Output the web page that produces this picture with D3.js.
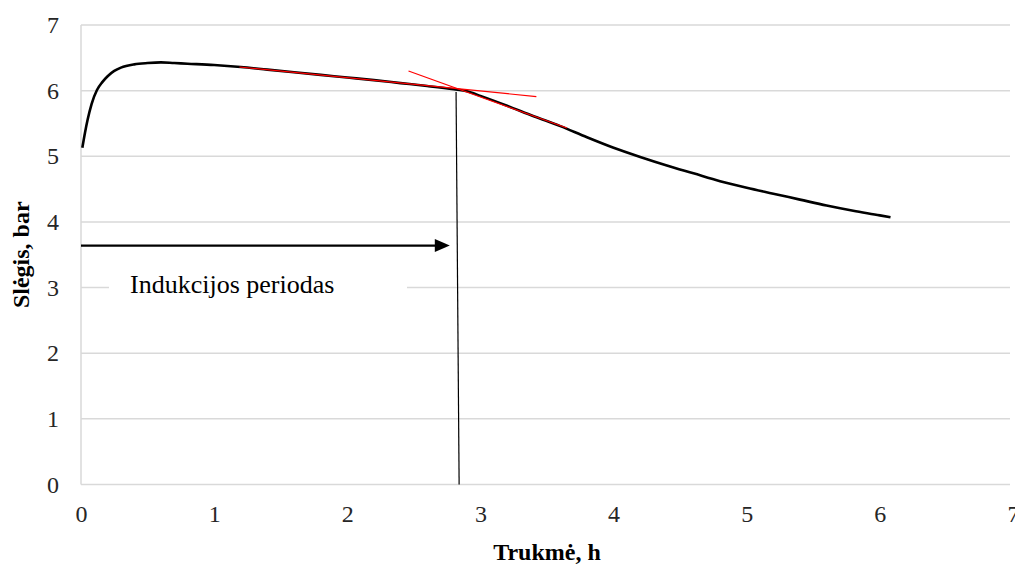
<!DOCTYPE html>
<html>
<head>
<meta charset="utf-8">
<script src="https://cdn.jsdelivr.net/npm/d3@7"></script>
<style>
  body { margin: 0; background: #fff; }
  svg { display: block; font-family: "Liberation Serif", "Times New Roman", serif; }
</style>
</head>
<body>
<div id="chart"></div>
<script>
"use strict";

// pressure curve (time in h, pressure in bar)
const timeH = [0.01, 0.03, 0.05, 0.08, 0.12, 0.16, 0.2, 0.25, 0.3, 0.4, 0.5, 0.6, 0.7, 0.8, 1.0, 1.2, 1.4, 1.6, 1.8, 2.0, 2.2, 2.4, 2.6, 2.8, 2.9, 3.0, 3.2, 3.4, 3.6, 3.8, 4.0, 4.2, 4.4, 4.6, 4.8, 5.0, 5.2, 5.4, 5.6, 5.8, 6.0, 6.08];
const pressure = [5.13, 5.36, 5.56, 5.8, 6.01, 6.13, 6.22, 6.3, 6.35, 6.4, 6.42, 6.43, 6.42, 6.41, 6.39, 6.36, 6.32, 6.28, 6.24, 6.2, 6.16, 6.115, 6.07, 6.02, 5.99, 5.92, 5.77, 5.61, 5.46, 5.29, 5.13, 4.99, 4.86, 4.74, 4.62, 4.52, 4.43, 4.34, 4.25, 4.17, 4.1, 4.07];

// tangent lines (red) and induction period markers
const tangentA = [[1.19, 6.36], [3.42, 5.91]];
const tangentB = [[2.46, 6.3], [3.65, 5.43]];
const inductionLine = [[2.817, 5.98], [2.84, 0]];
const arrowLine = [[0, 3.64], [2.77, 3.64]];

const xTicks = [0, 1, 2, 3, 4, 5, 6, 7];
const yTicks = [0, 1, 2, 3, 4, 5, 6, 7];

const width = 1015;
const height = 564;
const margin = { top: 25, right: 2, bottom: 79.5, left: 81 };
const innerWidth = width - margin.left - margin.right;
const innerHeight = height - margin.top - margin.bottom;
const gridColor = "#d9d9d9";

const svg = d3.select("#chart").append("svg")
  .attr("width", width)
  .attr("height", height);

const g = svg.append("g").attr("transform", `translate(${margin.left},${margin.top})`);

const x = d3.scaleLinear().domain([0, 7]).range([0, innerWidth]);
const y = d3.scaleLinear().domain([0, 7]).range([innerHeight, 0]);

// gridlines
g.selectAll("line.grid")
  .data(yTicks)
  .join("line")
  .attr("class", "grid")
  .attr("x1", 0)
  .attr("x2", x(7) - 3)
  .attr("y1", (v) => y(v))
  .attr("y2", (v) => y(v))
  .attr("stroke", gridColor)
  .attr("stroke-width", 1.5);

g.append("line")
  .attr("x1", 0).attr("x2", 0)
  .attr("y1", y(0)).attr("y2", y(7))
  .attr("stroke", gridColor)
  .attr("stroke-width", 1.5);

// axes (labels only)
g.append("g")
  .attr("transform", `translate(0,${innerHeight})`)
  .call(d3.axisBottom(x).tickValues(xTicks).tickSize(0).tickPadding(20).tickFormat(d3.format("d")))
  .call((axis) => axis.select(".domain").remove())
  .call((axis) => axis.selectAll("text").attr("font-size", 24).attr("fill", "#262626").attr("font-family", "Liberation Serif"));

g.append("g")
  .call(d3.axisLeft(y).tickValues(yTicks).tickSize(0).tickPadding(22).tickFormat(d3.format("d")))
  .call((axis) => axis.select(".domain").remove())
  .call((axis) => axis.selectAll("text").attr("font-size", 24).attr("fill", "#262626").attr("font-family", "Liberation Serif"));

// annotation box covering the gridline
g.append("rect")
  .attr("x", 109 - margin.left)
  .attr("y", y(3) - 18)
  .attr("width", 298)
  .attr("height", 34)
  .attr("fill", "#fff");

g.append("text")
  .attr("x", 130 - margin.left)
  .attr("y", y(3) + 5)
  .attr("font-size", 26)
  .attr("fill", "#000")
  .text("Indukcijos periodas");

const straight = d3.line().x((d) => x(d[0])).y((d) => y(d[1]));

// pressure curve
g.append("path")
  .datum(timeH.map((t, i) => [t, pressure[i]]))
  .attr("fill", "none")
  .attr("stroke", "#000")
  .attr("stroke-width", 2.6)
  .attr("stroke-linejoin", "round")
  .attr("d", d3.line().x((d) => x(d[0])).y((d) => y(d[1])).curve(d3.curveMonotoneX));

// tangent lines
[tangentA, tangentB].forEach((seg) => {
  g.append("path")
    .attr("d", straight(seg))
    .attr("fill", "none")
    .attr("stroke", "#ff0000")
    .attr("stroke-width", 1.2);
});

g.append("path")
  .attr("d", straight(inductionLine))
  .attr("fill", "none")
  .attr("stroke", "#000")
  .attr("stroke-width", 1.2);

// arrow
const ax0 = x(arrowLine[0][0]);
const ax1 = x(arrowLine[1][0]);
const ay = y(arrowLine[0][1]);
g.append("line")
  .attr("x1", ax0).attr("x2", ax1 - 12)
  .attr("y1", ay).attr("y2", ay)
  .attr("stroke", "#000")
  .attr("stroke-width", 2.2);
g.append("path")
  .attr("d", `M${ax1},${ay} L${ax1 - 15},${ay - 6.5} L${ax1 - 15},${ay + 6.5} Z`)
  .attr("fill", "#000");

// axis titles
svg.append("text")
  .attr("x", margin.left + innerWidth / 2)
  .attr("y", 560)
  .attr("text-anchor", "middle")
  .attr("font-size", 24)
  .attr("font-weight", "bold")
  .text("Trukmė, h");

svg.append("text")
  .attr("transform", `translate(29,${margin.top + innerHeight / 2}) rotate(-90)`)
  .attr("text-anchor", "middle")
  .attr("font-size", 24)
  .attr("font-weight", "bold")
  .text("Slėgis, bar");
</script>
</body>
</html>
